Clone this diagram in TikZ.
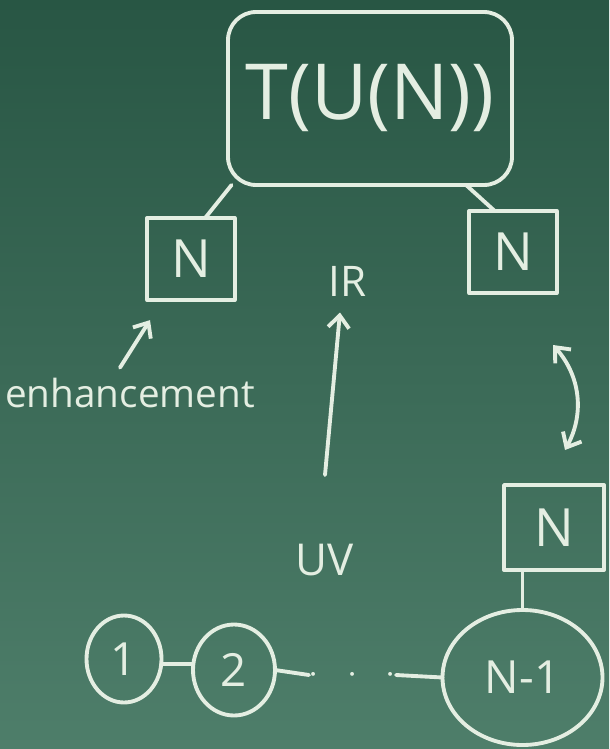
\documentclass[tikz,border=0pt]{standalone}
\usepackage{fontspec}
\setmainfont{Open Sans}
\usetikzlibrary{positioning}
\usetikzlibrary{arrows.meta,shapes.geometric}
\definecolor{boardtop}{RGB}{40,86,68}
\definecolor{boardbot}{RGB}{78,126,106}
\definecolor{chalk}{RGB}{228,238,226}
\tikzset{%
  >={Straight Barb[length=7pt,width=12pt]},
  chalk line/.style={draw=chalk,line width=2.2pt,line cap=round,line join=round},
  chalk text/.style={text=chalk,inner sep=0pt,outer sep=0pt},
  group box/.style={chalk line,chalk text,rounded corners=16pt,
    minimum width=5.68cm,minimum height=3.46cm,
    font=\fontsize{44}{44}\selectfont},
  nbox/.style={chalk line,chalk text,minimum width=1.75cm,minimum height=1.64cm,
    font=\fontsize{30}{30}\selectfont},
  site/.style={chalk line,chalk text,ellipse,font=\fontsize{26}{26}\selectfont},
  note/.style={chalk text,font=\fontsize{#1}{#1}\selectfont},
  note/.default=20
}
\begin{document}
\begin{tikzpicture}
\shade[top color=boardtop,bottom color=boardbot] (0,0) rectangle (12.18,-14.98);
\useasboundingbox (0,0) rectangle (12.18,-14.98);

% gauge group and its two factors
\node[group box] (top) at (7.4,-1.97) {T(U(N))};
\node[nbox] (nl) at (3.82,-5.18) {N};
\node[nbox] (nr) at (10.26,-5.04) {N};
\draw[chalk line] (top.212) -- (nl.71);
\draw[chalk line] (top.-42) -- (nr.114);

% flow
\node[note=24] (ir) at (6.95,-5.62) {IR};
\node[note=25] (uv) at (6.5,-11.2) {UV};
\coordinate (flow low) at (6.5,-9.5);
\coordinate (flow top) at (6.8,-6.25);
\draw[chalk line,->] (flow low) -- (flow top);

\node[note=22] (enh) at (2.6,-7.85) {enhancement};
\draw[chalk line,->] ([xshift=-2mm,yshift=2mm]enh.north) -- ++(0.6,0.95) coordinate (enh tip);

% mirror map
\coordinate (swap top) at (11.06,-6.9);
\coordinate (swap low) at (11.3,-9.0);
\draw[chalk line,<->] (swap top) to[bend left=35] (swap low);

% quiver tail
\node[nbox,minimum width=2.0cm,minimum height=1.7cm] (nb) at (11.08,-10.55) {N};
\node[site,minimum width=1.5cm,minimum height=1.74cm] (c1) at (2.48,-13.18) {1};
\node[site,minimum width=1.64cm,minimum height=1.82cm] (c2) at (4.68,-13.4) {2};
\node[chalk text,minimum width=1.7cm,font=\fontsize{20}{20}\selectfont] (dots) at (7.05,-13.5) {$\cdot\;\;\cdot\;\;\cdot$};
\node[site,minimum width=3.2cm,minimum height=2.7cm] (cm) at (10.45,-13.55) {N-1};
\draw[chalk line] (c1.-8) -- (c2.west |- c1.-8);
\draw[chalk line] (c2.east) -- (dots.west);
\draw[chalk line] (dots.east) -- (cm.west);
\draw[chalk line] (cm.north |- nb.south) -- (cm.north);
\end{tikzpicture}
\end{document}
